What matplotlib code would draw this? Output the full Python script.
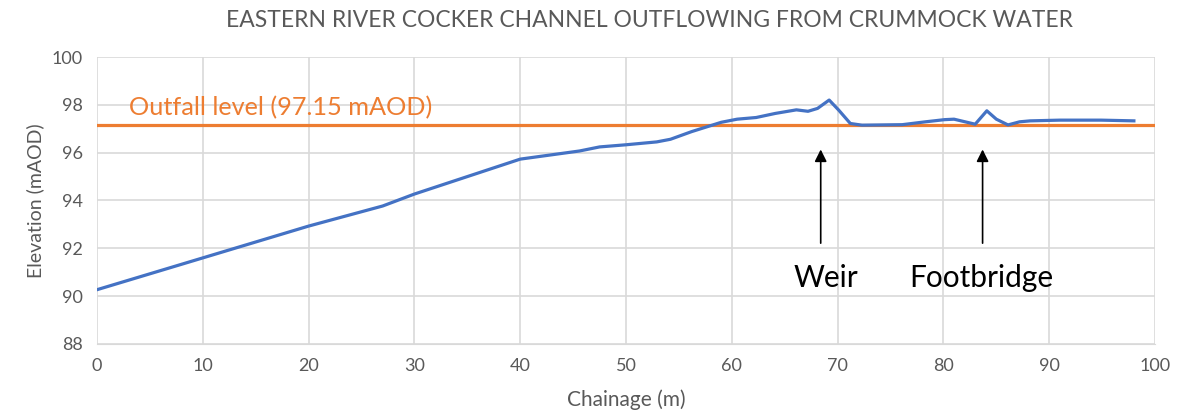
import matplotlib
matplotlib.use('Agg')
import matplotlib.pyplot as plt

# long profile
chainage = [0, 10, 20, 27, 30, 40, 45.6, 47.5, 50, 52.9, 54.2, 56.2, 59, 60.5,
            62.3, 64.1, 66.1, 67.2, 68.1, 69.2, 70.1, 71.2, 72.3, 76.1, 78.3,
            80.1, 81, 83, 84.1, 85, 86.1, 87.2, 88.2, 91, 94.9, 98]
elevation = [90.27, 91.6, 92.93, 93.77, 94.27, 95.73, 96.07, 96.24, 96.33,
             96.45, 96.56, 96.88, 97.27, 97.4, 97.47, 97.64, 97.79, 97.73,
             97.85, 98.2, 97.78, 97.22, 97.15, 97.17, 97.29, 97.38, 97.4,
             97.19, 97.75, 97.4, 97.16, 97.29, 97.33, 97.36, 97.36, 97.33]
outfall_level = 97.15

features = ['Weir', 'Footbridge']
feature_chainage = [68.4, 83.7]

grey = '#595959'
plt.rcParams['font.family'] = ['Lato', 'DejaVu Sans']

fig = plt.figure(figsize=(11.86, 4.17), dpi=100)
ax = fig.add_axes([0.0818, 0.1751, 0.8921, 0.6882])

ax.plot(chainage, elevation, color='#4472C4', lw=2.3, zorder=3)
ax.axhline(outfall_level, color='#ED7D31', lw=2.3, zorder=2)
ax.text(3, 97.55, 'Outfall level (%.2f mAOD)' % outfall_level,
        color='#ED7D31', fontsize=18.2, va='baseline')

label_shift = [0.5, -0.15]
for name, x, dx in zip(features, feature_chainage, label_shift):
    ax.annotate('', xy=(x, 96.25), xytext=(x, 92.1),
                arrowprops=dict(arrowstyle='-|>', color='black', lw=1.2,
                                mutation_scale=18))
    ax.text(x + dx, 90.4, name, ha='center', va='baseline',
            fontsize=21.5, color='black')

ax.set_xlim(0, 100)
ax.set_ylim(88, 100)
ax.set_xticks(range(0, 101, 10))
ax.set_yticks(range(88, 101, 2))
ax.grid(True, color='#D9D9D9', lw=1.2)
ax.set_axisbelow(True)
for side in ['top', 'right', 'left']:
    ax.spines[side].set_visible(False)
ax.spines['bottom'].set_color('#D9D9D9')
ax.tick_params(length=0, labelsize=13, colors=grey, pad=10)

ax.set_xlabel('Chainage (m)', fontsize=15, color=grey, labelpad=11)
ax.set_ylabel('Elevation (mAOD)', fontsize=14, color=grey, labelpad=6)
fig.text(650 / 1186, 0.975, 'EASTERN RIVER COCKER CHANNEL OUTFLOWING FROM CRUMMOCK WATER',
         fontsize=16.5, color=grey, ha='center', va='top')

fig.savefig('out.png', dpi=100)
